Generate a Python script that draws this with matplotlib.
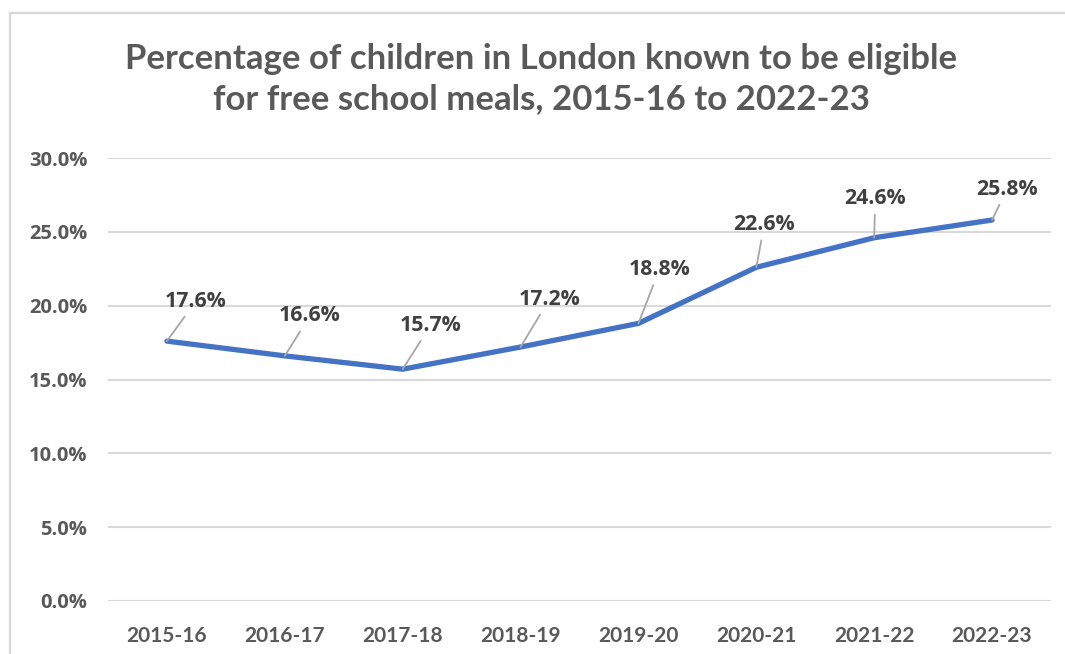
import matplotlib.pyplot as plt
from matplotlib.ticker import FuncFormatter
from matplotlib.lines import Line2D

years = ['2015-16', '2016-17', '2017-18', '2018-19',
         '2019-20', '2020-21', '2021-22', '2022-23']
pct = [17.6, 16.6, 15.7, 17.2, 18.8, 22.6, 24.6, 25.8]
# label offsets in pixels (dx, dy) relative to each point
offsets = [(29, 40), (25, 40), (28, 44), (29, 48),
           (21, 54), (8, 43), (1, 39), (15, 31)]

W, H = 1065, 654
fig = plt.figure(figsize=(W / 100, H / 100), dpi=100)
fig.patch.set_facecolor('white')

# chart border (screenshot crop: only left and top visible)
border = '#d9d9d9'
fig.add_artist(Line2D([10 / W, 10 / W], [0, 1 - 13 / H], color=border, lw=1.6,
                      transform=fig.transFigure))
fig.add_artist(Line2D([10 / W, 1], [1 - 13 / H, 1 - 13 / H], color=border, lw=1.6,
                      transform=fig.transFigure))

ax = fig.add_axes([108 / W, 1 - 601 / H, (1051 - 108) / W, (601 - 158) / H])
x = list(range(len(years)))
ax.plot(x, pct, color='#4472C4', lw=3.8, solid_capstyle='round', zorder=3)

ax.set_xlim(-0.5, len(years) - 0.5)
ax.set_ylim(0, 30)
ax.set_yticks([0, 5, 10, 15, 20, 25, 30])
ax.yaxis.set_major_formatter(FuncFormatter(lambda v, p: f'{v:.1f}%'))
ax.set_xticks(x)
ax.set_xticklabels(years)
ax.grid(axis='y', color='#d9d9d9', lw=1.5)
ax.set_axisbelow(True)
for s in ax.spines.values():
    s.set_visible(False)
ax.tick_params(length=0)
ax.tick_params(axis='y', pad=15)
ax.tick_params(axis='x', pad=18)
for lab in ax.get_yticklabels():
    lab.set_fontfamily('Open Sans')
    lab.set_fontweight('bold')
    lab.set_fontsize(14.5)
    lab.set_color('#595959')
for lab in ax.get_xticklabels():
    lab.set_fontfamily('Lato')
    lab.set_fontweight('bold')
    lab.set_fontsize(15)
    lab.set_color('#595959')

for xi, v, (dx, dy) in zip(x, pct, offsets):
    ax.annotate(f'{v:.1f}%', xy=(xi, v), xytext=(dx, dy), textcoords='offset pixels',
                ha='center', va='center', fontsize=15.3, fontweight='bold',
                family='Open Sans', color='#404040',
                arrowprops=dict(arrowstyle='-', color='#a6a6a6', lw=1.3,
                                shrinkA=2, shrinkB=0))

fig.text(541 / W, 1 - 79 / H,
         'Percentage of children in London known to be eligible\nfor free school meals, 2015-16 to 2022-23',
         ha='center', va='center', fontsize=25, fontweight='bold', family='Lato',
         color='#595959', linespacing=1.3)

fig.savefig('out.png', dpi=100)
